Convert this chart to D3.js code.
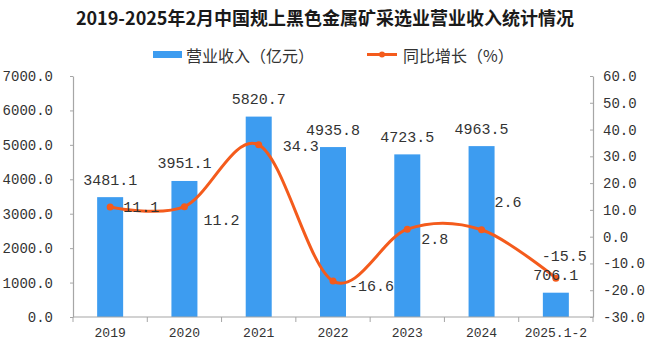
<!DOCTYPE html>
<html>
<head>
<meta charset="utf-8">
<script src="https://cdn.jsdelivr.net/npm/d3@7"></script>
<style>
  html, body { margin: 0; padding: 0; background: #fff; }
  svg { display: block; }
</style>
</head>
<body>
<svg id="chart" width="654" height="343"></svg>
<script>
// ---- data ----
const categories = ["2019", "2020", "2021", "2022", "2023", "2024", "2025.1-2"];
const revenue = [3481.1, 3951.1, 5820.7, 4935.8, 4723.5, 4963.5, 706.1];
const growth = [11.1, 11.2, 34.3, -16.6, 2.8, 2.6, -15.5];
const leftTicks = [0, 1000, 2000, 3000, 4000, 5000, 6000, 7000];
const rightTicks = [-30, -20, -10, 0, 10, 20, 30, 40, 50, 60];
const titleText = "2019-2025年2月中国规上黑色金属矿采选业营业收入统计情况";
const legendRevenue = "营业收入（亿元）";
const legendGrowth = "同比增长（%）";

// ---- layout / style ----
const barColor = "#3d9cf0";
const lineColor = "#f45b1c";
const axisColor = "#a6a6a6";
const textColor = "#333";
const numFont = "'Liberation Mono', 'DejaVu Sans Mono', monospace";
const cjkFont = "'Noto Sans CJK SC', 'Noto Sans', sans-serif";
// label nudges for growth labels (dx, dy) relative to point
const growthLabelNudge = [[13, 2], [19, 15], [24, 3], [16, 6], [14, 11], [13, -26], [-14, -21]];

const plotLeft = 73, plotRight = 593, plotTop = 76, plotBottom = 317;

const svg = d3.select("#chart");

const x = d3.scaleBand().domain(categories).range([plotLeft, plotRight]).paddingInner(0.65).paddingOuter(0.325);
const yL = d3.scaleLinear().domain([0, 7000]).range([plotBottom, plotTop]);
const yR = d3.scaleLinear().domain([-30, 60]).range([plotBottom, plotTop]);

// title
svg.append("text")
  .attr("x", 325).attr("y", 17)
  .attr("text-anchor", "middle").attr("dominant-baseline", "central")
  .attr("font-family", cjkFont).attr("font-weight", "bold").attr("font-size", 18)
  .attr("fill", "#1a1a1a")
  .text(titleText);

// legend
const lg = svg.append("g");
lg.append("rect").attr("x", 153).attr("y", 51).attr("width", 29).attr("height", 7).attr("fill", barColor);
lg.append("text").attr("x", 186).attr("y", 54.5).attr("dominant-baseline", "central")
  .attr("font-family", cjkFont).attr("font-size", 16).attr("fill", textColor).text(legendRevenue);
lg.append("line").attr("x1", 367).attr("x2", 397).attr("y1", 54.5).attr("y2", 54.5)
  .attr("stroke", lineColor).attr("stroke-width", 3);
lg.append("circle").attr("cx", 382).attr("cy", 54.5).attr("r", 3).attr("fill", lineColor);
lg.append("text").attr("x", 403).attr("y", 54.5).attr("dominant-baseline", "central")
  .attr("font-family", cjkFont).attr("font-size", 16).attr("fill", textColor).text(legendGrowth);

// bars
svg.append("g").selectAll("rect").data(revenue).join("rect")
  .attr("x", (d, i) => x(categories[i]))
  .attr("width", x.bandwidth())
  .attr("y", d => yL(d))
  .attr("height", d => yL(0) - yL(d))
  .attr("fill", barColor);

// left axis
const axL = svg.append("g").attr("transform", `translate(${plotLeft},0)`)
  .call(d3.axisLeft(yL).tickValues(leftTicks).tickSize(3).tickSizeOuter(0).tickPadding(17)
    .tickFormat(d => d.toFixed(1)));
// right axis
const axR = svg.append("g").attr("transform", `translate(${plotRight},0)`)
  .call(d3.axisRight(yR).tickValues(rightTicks).tickSizeInner(-3).tickSizeOuter(0).tickPadding(10)
    .tickFormat(d => d.toFixed(1)));
[axL, axR].forEach(ax => {
  ax.select(".domain").attr("stroke", axisColor).attr("stroke-width", 1.2);
  ax.selectAll(".tick line").attr("stroke", axisColor);
  ax.selectAll(".tick text").attr("font-family", numFont).attr("font-size", 14).attr("fill", textColor);
});

// x axis
const axX = svg.append("g");
axX.append("line").attr("x1", plotLeft).attr("x2", plotRight).attr("y1", plotBottom).attr("y2", plotBottom)
  .attr("stroke", axisColor).attr("stroke-width", 1.2);
axX.selectAll("line.tk").data(categories.map((c, i) => plotLeft + i * x.step()).concat([plotRight])).join("line")
  .attr("class", "tk")
  .attr("x1", d => d).attr("x2", d => d).attr("y1", plotBottom).attr("y2", plotBottom + 5)
  .attr("stroke", axisColor);
axX.selectAll("text").data(categories).join("text")
  .attr("x", d => x(d) + x.bandwidth() / 2).attr("y", 333)
  .attr("text-anchor", "middle").attr("dominant-baseline", "central")
  .attr("font-family", numFont).attr("font-size", 13).attr("fill", textColor)
  .text(d => d);

// line
const cx = (i) => x(categories[i]) + x.bandwidth() / 2;
const line = d3.line().x((d, i) => cx(i)).y(d => yR(d)).curve(d3.curveCatmullRom.alpha(0));
svg.append("path").datum(growth).attr("d", line)
  .attr("fill", "none").attr("stroke", lineColor).attr("stroke-width", 3);
svg.append("g").selectAll("circle").data(growth).join("circle")
  .attr("cx", (d, i) => cx(i)).attr("cy", d => yR(d)).attr("r", 3.5).attr("fill", lineColor);

// revenue labels
svg.append("g").selectAll("text").data(revenue).join("text")
  .attr("x", (d, i) => cx(i)).attr("y", d => yL(d) - 16)
  .attr("text-anchor", "middle").attr("dominant-baseline", "central")
  .attr("font-family", numFont).attr("font-size", 15).attr("fill", textColor)
  .text(d => d.toFixed(1));

// growth labels
svg.append("g").selectAll("text").data(growth).join("text")
  .attr("x", (d, i) => cx(i) + growthLabelNudge[i][0])
  .attr("y", (d, i) => yR(d) + growthLabelNudge[i][1])
  .attr("text-anchor", "start")
  .attr("dominant-baseline", "central")
  .attr("font-family", numFont).attr("font-size", 15).attr("fill", textColor)
  .text(d => d.toFixed(1));
</script>
</body>
</html>
